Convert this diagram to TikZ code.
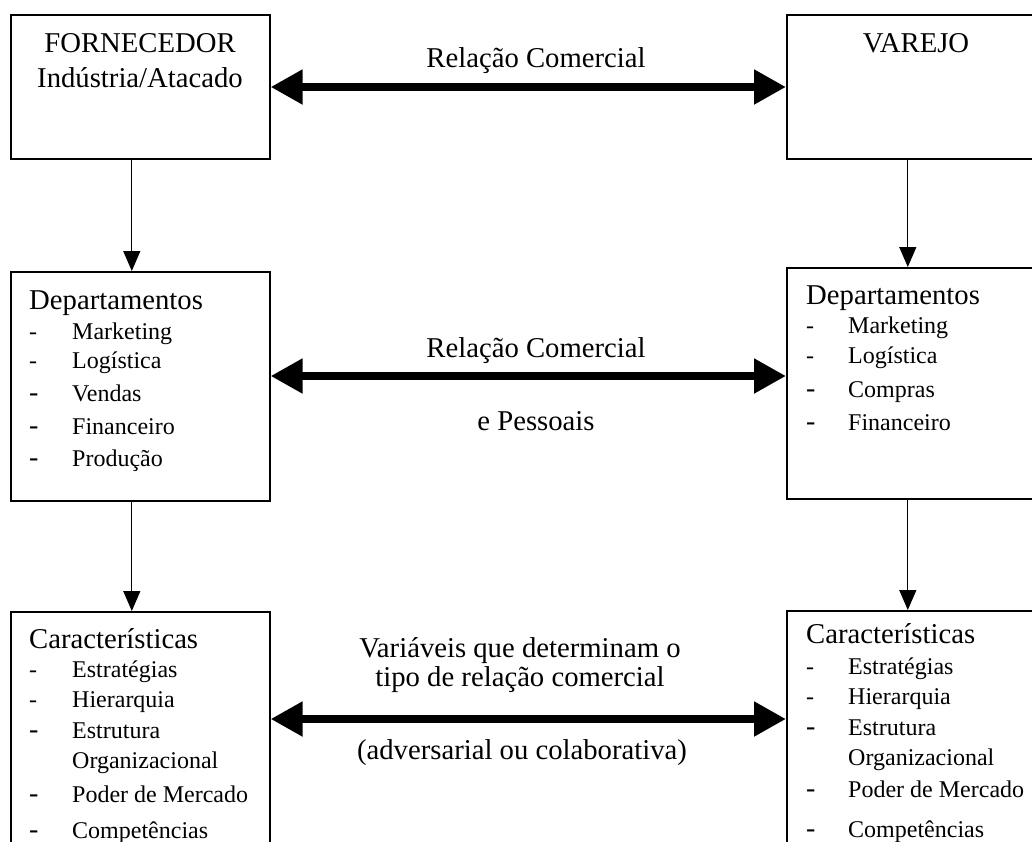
\documentclass[tikz,border=0pt]{standalone}
\usepackage{fontspec}
\setmainfont{Liberation Serif}
\usetikzlibrary{arrows.meta}
\begin{document}
\begin{tikzpicture}[x=1pt,y=-1pt,
  box/.style={draw,line width=1.6pt,minimum width=259pt,inner sep=0pt,anchor=north west},
  big/.style={font=\fontsize{28.7}{34}\selectfont,inner sep=0pt,anchor=base},
  head/.style={font=\fontsize{28.7}{34}\selectfont,inner sep=0pt,anchor=base west},
  itm/.style={font=\fontsize{24}{29}\selectfont,inner sep=0pt,anchor=base west},
  dsh/.style={font=\fontsize{24}{29}\selectfont,inner sep=0pt,anchor=base west},
  dshb/.style={font=\fontsize{28}{34}\selectfont,inner sep=0pt,anchor=base west},
  relarrow/.style={line width=8pt,{Triangle[length=32pt,width=33pt]}-{Triangle[length=32pt,width=33pt]}},
  downarrow/.style={line width=1.3pt,-{Triangle[length=20pt,width=17pt]}}]
\useasboundingbox (0,0) rectangle (1032,841);

% ---- boxes ----
\node[box,minimum height=144pt] (forn) at (10,14) {};
\node[box,minimum height=144pt] (varejo) at (786,14) {};
\node[box,minimum height=229pt] (depF) at (10,271) {};
\node[box,minimum height=231pt] (depV) at (786,267) {};
\node[box,minimum height=260pt] (carF) at (10,611) {};
\node[box,minimum height=260pt] (carV) at (786,610) {};

% ---- top boxes ----
\node[big] (tF1) at (140,52) {FORNECEDOR};
\node[big] (tF2) at (140,87) {Indústria/Atacado};
\node[big] (tV1) at (916,52) {VAREJO};

% ---- departments, supplier ----
\node[head] (hdF) at (29,309) {Departamentos};
\node[dsh] (dF1) at (29,339) {-};  \node[itm] (iF1) at (72,339) {Marketing};
\node[dsh] (dF2) at (29,368) {-};  \node[itm] (iF2) at (72,368) {Logística};
\node[dshb] (dF3) at (29,401) {-}; \node[itm] (iF3) at (72,401) {Vendas};
\node[dshb] (dF4) at (29,434) {-}; \node[itm] (iF4) at (72,434) {Financeiro};
\node[dshb] (dF5) at (29,466) {-}; \node[itm] (iF5) at (72,466) {Produção};

% ---- departments, retailer ----
\node[head] (hdV) at (806,304) {Departamentos};
\node[dsh] (dV1) at (806,333) {-};  \node[itm] (iV1) at (848,333) {Marketing};
\node[dsh] (dV2) at (806,363) {-};  \node[itm] (iV2) at (848,363) {Logística};
\node[dshb] (dV3) at (806,397) {-}; \node[itm] (iV3) at (848,397) {Compras};
\node[dshb] (dV4) at (806,430) {-}; \node[itm] (iV4) at (848,430) {Financeiro};

% ---- characteristics, supplier ----
\node[head] (hcF) at (29,648) {Características};
\node[dsh] (cF1) at (29,677) {-};  \node[itm] (jF1) at (72,677) {Estratégias};
\node[dsh] (cF2) at (29,707) {-};  \node[itm] (jF2) at (72,707) {Hierarquia};
\node[dshb] (cF3) at (29,738) {-}; \node[itm] (jF3) at (72,738) {Estrutura};
                                   \node[itm] (jF3b) at (72,768) {Organizacional};
\node[dshb] (cF4) at (29,802) {-}; \node[itm] (jF4) at (72,802) {Poder de Mercado};
\node[dshb] (cF5) at (29,838) {-}; \node[itm] (jF5) at (72,838) {Competências};

% ---- characteristics, retailer ----
\node[head] (hcV) at (806,643) {Características};
\node[dsh] (cV1) at (806,674) {-};  \node[itm] (jV1) at (848,674) {Estratégias};
\node[dsh] (cV2) at (806,704) {-};  \node[itm] (jV2) at (848,704) {Hierarquia};
\node[dshb] (cV3) at (806,735) {-}; \node[itm] (jV3) at (848,735) {Estrutura};
                                    \node[itm] (jV3b) at (848,765) {Organizacional};
\node[dshb] (cV4) at (806,797) {-}; \node[itm] (jV4) at (848,797) {Poder de Mercado};
\node[dshb] (cV5) at (806,837) {-}; \node[itm] (jV5) at (848,837) {Competências};

% ---- relation labels ----
\node[big] (r1) at (536,67) {Relação Comercial};
\node[big] (r2) at (536,357) {Relação Comercial};
\node[big] (r3) at (536,430) {e Pessoais};
\node[big] (r4) at (520,657) {Variáveis que determinam o};
\node[big] (r5) at (520,686) {tipo de relação comercial};
\node[big] (r6) at (522,759) {(adversarial ou colaborativa)};

% ---- relation arrows ----
\coordinate (yTop) at (0,87);
\coordinate (yMid) at (0,376);
\coordinate (yBot) at (0,719);
\draw[relarrow] (forn.east |- yTop) -- (varejo.west |- yTop);
\draw[relarrow] (depF.east |- yMid) -- (depV.west |- yMid);
\draw[relarrow] (carF.east |- yBot) -- (carV.west |- yBot);

% ---- vertical flow ----
\draw[downarrow] ([xshift=-8.5pt]forn.south) -- ([xshift=-8.5pt]depF.north);
\draw[downarrow] ([xshift=-8.5pt]varejo.south) -- ([xshift=-8.5pt]depV.north);
\draw[downarrow] ([xshift=-8.5pt]depF.south) -- ([xshift=-8.5pt]carF.north);
\draw[downarrow] ([xshift=-8.5pt]depV.south) -- ([xshift=-8.5pt]carV.north);
\end{tikzpicture}
\end{document}
